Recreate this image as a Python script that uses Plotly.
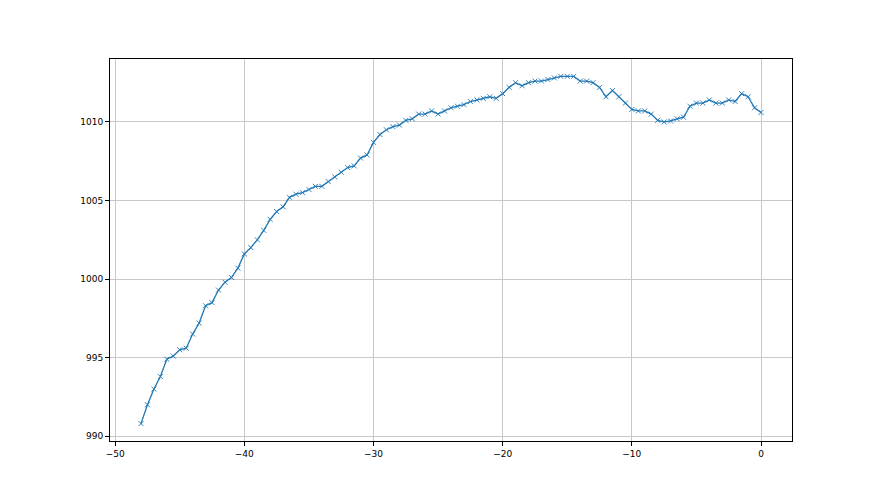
import numpy as np
import plotly.graph_objects as go

# hours relative to now, 0.5 h steps
hours = [x * 0.5 for x in range(-96, 1)]

pressure = [
    990.8, 992.0, 993.0, 993.8, 994.9, 995.1, 995.5, 995.6, 996.5, 997.2,
    998.3, 998.5, 999.3, 999.8, 1000.1, 1000.7, 1001.6, 1002.0, 1002.5, 1003.1,
    1003.8, 1004.3, 1004.6, 1005.2, 1005.4, 1005.5, 1005.7, 1005.9, 1005.9, 1006.2,
    1006.5, 1006.8, 1007.1, 1007.2, 1007.7, 1007.9, 1008.7, 1009.2, 1009.5, 1009.7,
    1009.8, 1010.1, 1010.2, 1010.5, 1010.5, 1010.7, 1010.5, 1010.7, 1010.9, 1011.0,
    1011.1, 1011.3, 1011.4, 1011.5, 1011.6, 1011.5, 1011.8, 1012.2, 1012.5, 1012.3,
    1012.5, 1012.6, 1012.6, 1012.7, 1012.8, 1012.9, 1012.9, 1012.9, 1012.6, 1012.6,
    1012.5, 1012.2, 1011.6, 1012.0, 1011.6, 1011.2, 1010.8, 1010.7, 1010.7, 1010.5,
    1010.1, 1010.0, 1010.06, 1010.2, 1010.3, 1011.0, 1011.2, 1011.2, 1011.4, 1011.2,
    1011.2, 1011.4, 1011.3, 1011.8, 1011.6, 1010.9, 1010.6,
]

x_tick_vals = [-50, -40, -30, -20, -10, 0]
x_tick_text = ["\u221250", "\u221240", "\u221230", "\u221220", "\u221210", "0"]
y_tick_vals = [990, 995, 1000, 1005, 1010]

# matplotlib-style 5% margins
xpad = (max(hours) - min(hours)) * 0.05
ypad = (max(pressure) - min(pressure)) * 0.05

fig = go.Figure()
fig.add_trace(go.Scatter(
    x=hours,
    y=pressure,
    mode="lines+markers",
    line=dict(color="#1f77b4", width=1.3),
    marker=dict(symbol="x-thin", size=5, line=dict(color="#1f77b4", width=0.9)),
    showlegend=False,
))

axis_common = dict(
    showline=True, mirror=True, linecolor="black", linewidth=1,
    ticks="outside", ticklen=4, tickcolor="black",
    showgrid=True, gridcolor="#c8c8c8", gridwidth=0.8,
    zeroline=False,
    tickfont=dict(family="DejaVu Sans", size=9, color="black"),
)

# page body has an 8px margin, so shift the plot area back by 8px
fig.update_layout(
    width=880, height=495,
    margin=dict(l=102, r=96, t=51, b=62),
    paper_bgcolor="white", plot_bgcolor="white",
    xaxis=dict(range=[min(hours) - xpad, max(hours) + xpad],
               tickvals=x_tick_vals, ticktext=x_tick_text, **axis_common),
    yaxis=dict(range=[min(pressure) - ypad, max(pressure) + ypad],
               tickvals=y_tick_vals, **axis_common),
)

fig.write_html("out.html")
